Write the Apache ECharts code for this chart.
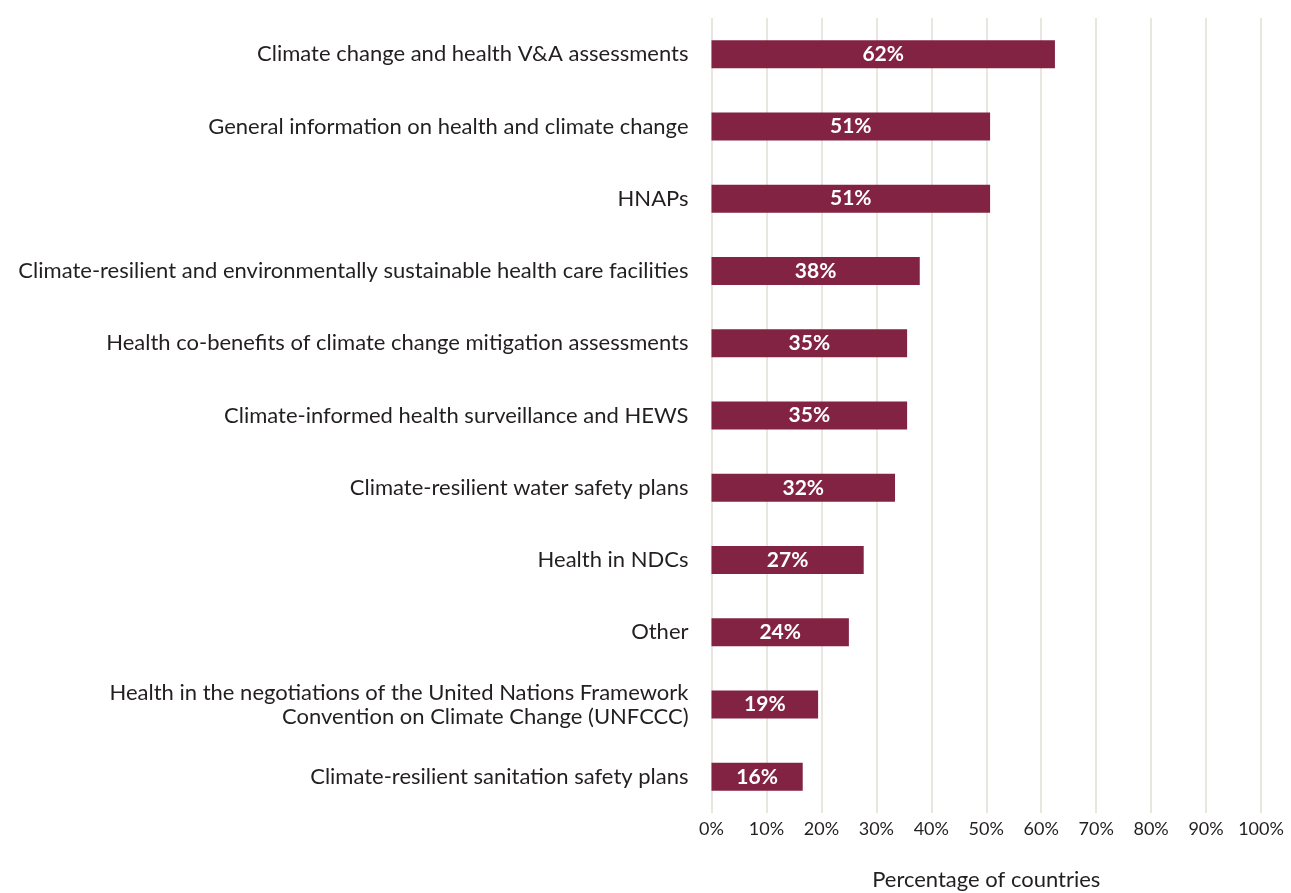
<!DOCTYPE html>
<html>
<head>
<meta charset="utf-8">
<script src="https://cdn.jsdelivr.net/npm/echarts@6/dist/echarts.min.js"></script>
<style>
  html, body { margin: 0; padding: 0; background: #fff; }
  #chartContainer { width: 1291px; height: 893px; }
</style>
</head>
<body>
<div id="chartContainer"></div>
<script>
// categories top to bottom
var categories = [
    "Climate change and health V&A assessments",
    "General information on health and climate change",
    "HNAPs",
    "Climate-resilient and environmentally sustainable health care facilities",
    "Health co-benefits of climate change mitigation assessments",
    "Climate-informed health surveillance and HEWS",
    "Climate-resilient water safety plans",
    "Health in NDCs",
    "Other",
    "Health in the negotiations of the United Nations Framework\nConvention on Climate Change (UNFCCC)",
    "Climate-resilient sanitation safety plans"
];
// bar lengths (%)
var values = [62.5, 50.7, 50.7, 37.9, 35.6, 35.6, 33.4, 27.7, 25.0, 19.4, 16.6];
// printed labels
var valueLabels = ["62%", "51%", "51%", "38%", "35%", "35%", "32%", "27%", "24%", "19%", "16%"];
var xTicks = [0, 10, 20, 30, 40, 50, 60, 70, 80, 90, 100];

var barColor = "#822343";
var textColor = "#231f20";
var fontFam = "Lato, 'Noto Sans', sans-serif";

var myChart = echarts.init(document.getElementById("chartContainer"));

var option = {
    animation: false,
    grid: {
        left: 711.5,
        right: 30,
        top: 18,
        bottom: 80,
        outerBoundsMode: "none",
        containLabel: false
    },
    xAxis: {
        type: "value",
        min: xTicks[0],
        max: xTicks[xTicks.length - 1],
        interval: 10,
        name: "Percentage of countries",
        nameLocation: "middle",
        nameGap: 56,
        nameTextStyle: { color: textColor, fontSize: 22, fontFamily: fontFam },
        axisLine: { show: false },
        axisTick: { show: false },
        axisLabel: {
            color: textColor,
            fontSize: 18,
            fontFamily: fontFam,
            margin: 7,
            formatter: "{value}%"
        },
        splitLine: { show: true, lineStyle: { color: "#e2ddd5", width: 1.5 } }
    },
    yAxis: {
        type: "category",
        inverse: true,
        data: categories,
        axisLine: { show: false },
        axisTick: { show: false },
        axisLabel: {
            color: textColor,
            fontSize: 22,
            fontFamily: fontFam,
            margin: 23,
            lineHeight: 24
        }
    },
    series: [{
        type: "bar",
        data: values,
        barWidth: 28,
        itemStyle: { color: barColor },
        label: {
            show: true,
            position: "inside",
            color: "#fff",
            fontSize: 21,
            fontWeight: "bold",
            fontFamily: fontFam,
            formatter: function(p) { return valueLabels[p.dataIndex]; }
        }
    }]
};

myChart.setOption(option);
window.onresize = myChart.resize;
</script>
</body>
</html>
